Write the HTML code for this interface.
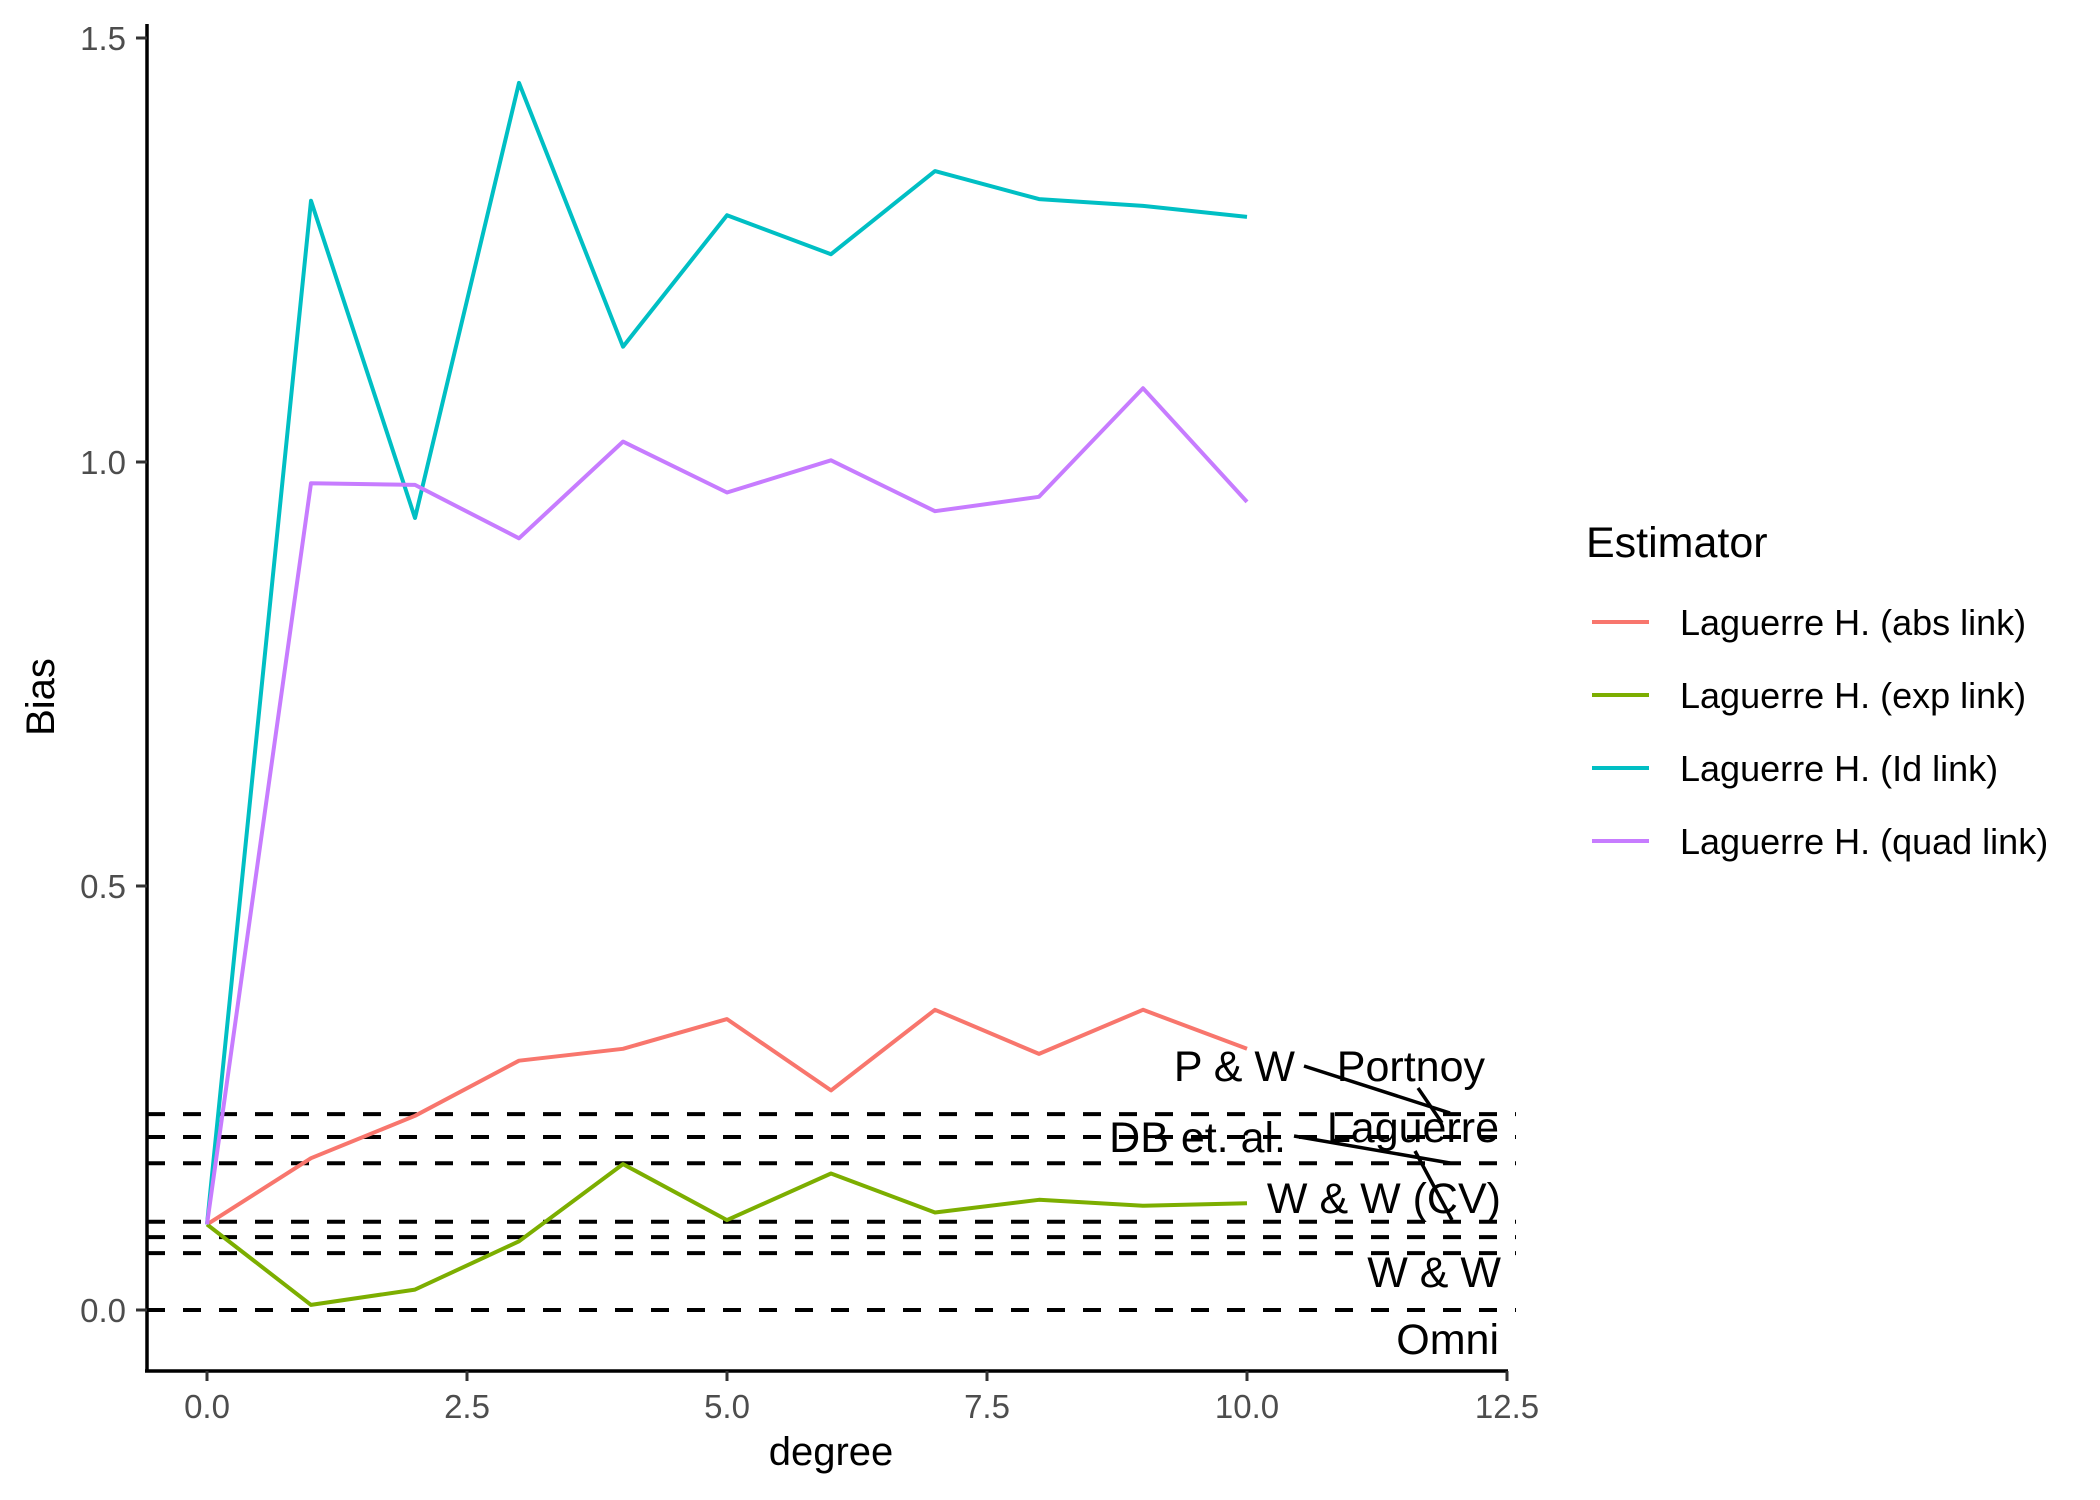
<!DOCTYPE html>
<html><head><meta charset="utf-8"><style>
html,body{margin:0;padding:0;background:#fff;}
svg{display:block;font-family:"Liberation Sans",Arial,sans-serif;}
</style></head><body>
<svg id="chart" width="2100" height="1500" viewBox="0 0 2100 1500" xmlns="http://www.w3.org/2000/svg">
<rect width="2100" height="1500" fill="#fff"/>
<g id="refs"></g>
<g id="series"></g>
<g id="annots"></g>
<g id="axes"></g>
<g id="legend"></g>
</svg>
<script>
const degrees = [0,1,2,3,4,5,6,7,8,9,10];
const absLink  = [0.101,0.179,0.229,0.294,0.308,0.343,0.259,0.354,0.302,0.354,0.308];
const expLink  = [0.101,0.006,0.024,0.081,0.172,0.106,0.161,0.115,0.130,0.123,0.126];
const idLink   = [0.101,1.308,0.934,1.447,1.136,1.291,1.245,1.343,1.310,1.302,1.289];
const quadLink = [0.101,0.975,0.973,0.910,1.024,0.964,1.002,0.942,0.959,1.087,0.953];
const seriesNames = ["Laguerre H. (abs link)","Laguerre H. (exp link)","Laguerre H. (Id link)","Laguerre H. (quad link)"];
const refValues = [0.231,0.204,0.173,0.104,0.086,0.067,0.0];
const xTicks = [0,2.5,5,7.5,10,12.5];
const xTickLabels = ["0.0","2.5","5.0","7.5","10.0","12.5"];
const yTicks = [0,0.5,1.0,1.5];
const yTickLabels = ["0.0","0.5","1.0","1.5"];

const NS="http://www.w3.org/2000/svg";
const X = v => 207 + 104*v;
const Y = v => 1310 - 848*v;
function mk(tag, attrs, parent){const e=document.createElementNS(NS,tag);for(const k in attrs)e.setAttribute(k,attrs[k]);parent.appendChild(e);return e;}

const refs=document.getElementById('refs');
refValues.forEach((v,i)=>{
  const l=mk('line',{x1:147,x2:1516,y1:Y(v),y2:Y(v),stroke:'#000','stroke-width':4,'stroke-dasharray':'18 18'},refs);
  
  
});

const colors=['#F8766D','#7CAE00','#00BFC4','#C77CFF'];
const allSeries=[absLink,expLink,idLink,quadLink];
const keys=['abs','exp','id','quad'];
const sg=document.getElementById('series');
allSeries.forEach((s,i)=>{
  const pts=s.map((v,j)=>X(degrees[j]).toFixed(1)+','+Y(v).toFixed(1)).join(' ');
  const p=mk('polyline',{points:pts,fill:'none',stroke:colors[i],'stroke-width':4,'stroke-linejoin':'round'},sg);
  
  
});

const an=document.getElementById('annots');
const segs=[[1304,1066,1450,1113],[1418,1088,1442,1123],[1294,1136,1450,1163],[1415,1151,1452,1220]];
segs.forEach((s,i)=>{
  const l=mk('line',{x1:s[0],y1:s[1],x2:s[2],y2:s[3],stroke:'#000','stroke-width':3.5},an);
  
  
});
const labs=[["P & W",1295,1081],["Portnoy",1485,1081],["Laguerre",1499,1142],["DB et. al.",1286,1152],["W & W (CV)",1501,1213],["W & W",1501,1287],["Omni",1499,1354]];
labs.forEach(a=>{
  const t=mk('text',{x:a[1],y:a[2],'font-size':43,'text-anchor':'end',fill:'#000'},an);
  t.textContent=a[0];
  
  
});

const ax=document.getElementById('axes');
const yl=mk('line',{x1:147,y1:24,x2:147,y2:1371,stroke:'#000','stroke-width':3.5},ax);


const xl=mk('line',{x1:145,y1:1371,x2:1508,y2:1371,stroke:'#000','stroke-width':3.5},ax);


xTicks.forEach((v,i)=>{
  const tk=mk('line',{x1:X(v),x2:X(v),y1:1371,y2:1381,stroke:'#333','stroke-width':3},ax);
  
  
  const t=mk('text',{x:X(v),y:1418,'font-size':33,'text-anchor':'middle',fill:'#4d4d4d'},ax);
  t.textContent=xTickLabels[i];
  
  
});
yTicks.forEach((v,i)=>{
  const tk=mk('line',{x1:136,x2:147,y1:Y(v),y2:Y(v),stroke:'#333','stroke-width':3},ax);
  
  
  const t=mk('text',{x:126,y:Y(v)+12,'font-size':33,'text-anchor':'end',fill:'#4d4d4d'},ax);
  t.textContent=yTickLabels[i];
  
  
});
const xt=mk('text',{x:831,y:1465,'font-size':40,'text-anchor':'middle',fill:'#000'},ax);
xt.textContent='degree';


const yt=mk('text',{x:0,y:0,'font-size':40,'text-anchor':'middle',fill:'#000',transform:'translate(54,697) rotate(-90)'},ax);
yt.textContent='Bias';



const lg=document.getElementById('legend');
const lt=mk('text',{x:1586,y:557,'font-size':43,fill:'#000'},lg);
lt.textContent='Estimator';


seriesNames.forEach((n,i)=>{
  const y=622+73*i;
  const k=mk('line',{x1:1592,x2:1649,y1:y,y2:y,stroke:colors[i],'stroke-width':4},lg);
  
  
  const t=mk('text',{x:1680,y:y+13,'font-size':36,fill:'#000'},lg);
  t.textContent=n;
  
  
});
</script>
</body></html>
